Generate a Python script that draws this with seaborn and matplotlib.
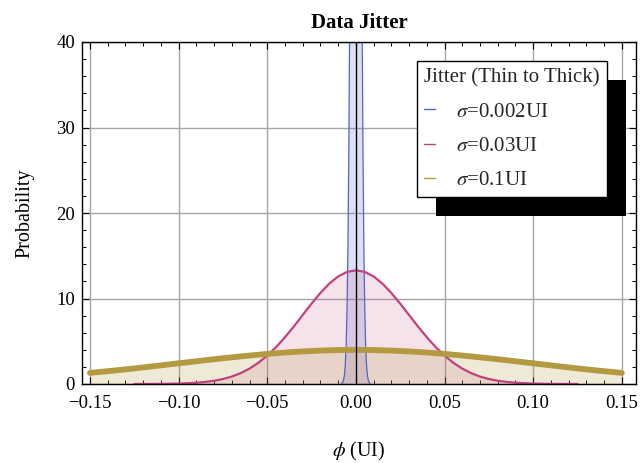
import numpy as np
import pandas as pd
import matplotlib
matplotlib.use("Agg")
import matplotlib.pyplot as plt
import seaborn as sns
from matplotlib.ticker import FixedLocator, MultipleLocator
from matplotlib.patches import Rectangle
from matplotlib.lines import Line2D

# ---- data ----
x_thin = [-0.008, -0.0075, -0.007, -0.0065, -0.006, -0.0055, -0.005, -0.0045, -0.004,
          -0.0035, -0.003, -0.0025, -0.002, -0.0015, -0.001, -0.0005, 0.0,
          0.0005, 0.001, 0.0015, 0.002, 0.0025, 0.003, 0.0035, 0.004,
          0.0045, 0.005, 0.0055, 0.006, 0.0065, 0.007, 0.0075, 0.008]
y_thin = [0.07, 0.18, 0.44, 1.0, 2.2, 4.5, 8.8, 15.9, 27.0,
          43.1, 64.8, 91.4, 121.0, 150.6, 176.0, 193.4, 199.5,
          193.4, 176.0, 150.6, 121.0, 91.4, 64.8, 43.1, 27.0,
          15.9, 8.8, 4.5, 2.2, 1.0, 0.44, 0.18, 0.07]

x_mid = [-0.125, -0.11, -0.10, -0.095, -0.09, -0.085, -0.08, -0.075, -0.07, -0.065,
         -0.06, -0.055, -0.05, -0.045, -0.04, -0.035, -0.03, -0.025, -0.02, -0.015,
         -0.01, -0.005, 0.0, 0.005, 0.01, 0.015, 0.02, 0.025, 0.03, 0.035,
         0.04, 0.045, 0.05, 0.055, 0.06, 0.065, 0.07, 0.075, 0.08, 0.085,
         0.09, 0.095, 0.10, 0.11, 0.125]
y_mid = [0.0, 0.01, 0.05, 0.09, 0.15, 0.24, 0.38, 0.58, 0.87, 1.27,
         1.80, 2.48, 3.32, 4.32, 5.47, 6.73, 8.07, 9.40, 10.65, 11.74,
         12.58, 13.11, 13.30, 13.11, 12.58, 11.74, 10.65, 9.40, 8.07, 6.73,
         5.47, 4.32, 3.32, 2.48, 1.80, 1.27, 0.87, 0.58, 0.38, 0.24,
         0.15, 0.09, 0.05, 0.01, 0.0]

x_thick = [-0.15, -0.14, -0.13, -0.12, -0.11, -0.10, -0.09, -0.08, -0.07, -0.06,
           -0.05, -0.04, -0.03, -0.02, -0.01, 0.0, 0.01, 0.02, 0.03, 0.04,
           0.05, 0.06, 0.07, 0.08, 0.09, 0.10, 0.11, 0.12, 0.13, 0.14, 0.15]
y_thick = [1.30, 1.50, 1.71, 1.94, 2.18, 2.42, 2.66, 2.90, 3.12, 3.33,
           3.52, 3.68, 3.81, 3.91, 3.97, 3.99, 3.97, 3.91, 3.81, 3.68,
           3.52, 3.33, 3.12, 2.90, 2.66, 2.42, 2.18, 1.94, 1.71, 1.50, 1.30]

labels = ["=0.002UI", "=0.03UI", "=0.1UI"]
x_ticks = [-0.15, -0.10, -0.05, 0.00, 0.05, 0.10, 0.15]
y_ticks = [0, 10, 20, 30, 40]

# ---- style ----
sns.set_theme(style="white")
plt.rcParams["font.family"] = ["Liberation Serif", "DejaVu Serif"]
plt.rcParams["mathtext.fontset"] = "stix"

colors = ["#5166c4", "#c3407f", "#b3993f"]
widths = [0.9, 1.6, 4.2]
fill_alpha = [0.2, 0.15, 0.2]

fig = plt.figure(figsize=(6.42, 4.63), dpi=100)
ax = fig.add_axes([82 / 642, 1 - 384 / 463, (636 - 82) / 642, (384 - 42) / 463])

series = [(x_thin, y_thin), (x_mid, y_mid), (x_thick, y_thick)]
for (xs, ys), c, a in zip(series, colors, fill_alpha):
    ax.fill_between(xs, 0, ys, color=c, alpha=a, linewidth=0, zorder=1)

for i, ((xs, ys), c, w) in enumerate(zip(series, colors, widths)):
    df = pd.DataFrame({"x": xs, "y": ys})
    sns.lineplot(data=df, x="x", y="y", ax=ax, color=c, linewidth=w,
                 sort=False, zorder=3 + i)
for ln in ax.lines[1:]:
    ln.set_clip_on(False)

ax.axvline(0, color="black", linewidth=0.9, zorder=7)

ax.set_xlim(-0.1545, 0.158)
ax.set_ylim(0, 40)

ax.xaxis.set_major_locator(FixedLocator(x_ticks))
ax.set_xticklabels([("\u2212" if v < 0 else "") + f"{abs(v):.2f}" for v in x_ticks])
ax.xaxis.set_minor_locator(MultipleLocator(0.01))
ax.yaxis.set_major_locator(FixedLocator(y_ticks))
ax.set_yticklabels([str(v) for v in y_ticks])
ax.yaxis.set_minor_locator(MultipleLocator(2))

ax.tick_params(which="both", direction="in", top=True, right=True,
               bottom=True, left=True, color="black", labelsize=13.5,
               labelcolor="black")
ax.tick_params(which="major", length=5, width=0.8)
ax.tick_params(which="minor", length=3, width=0.7)
ax.tick_params(axis="x", which="major", pad=8)
ax.tick_params(axis="y", which="major", pad=5)

ax.grid(True, which="major", color="#a6a6a6", linewidth=1.0, zorder=0)
ax.set_axisbelow(True)
for s in ax.spines.values():
    s.set_color("black")
    s.set_linewidth(1.0)
    s.set_zorder(8)

ax.set_xlabel(r"$\phi$ (UI)", fontsize=14.5, labelpad=20, color="black")
ax.set_ylabel("Probability", fontsize=14.5, labelpad=16, color="black")
ax.set_title("Data Jitter", fontsize=15, fontweight="bold", pad=10, color="black")

handles = [Line2D([0], [0], color=c, lw=1.0) for c in colors]
leg = ax.legend(handles, [r"$\sigma$" + l for l in labels],
                title="Jitter (Thin to Thick)", loc="upper left",
                bbox_to_anchor=((417 - 82) / 554, 1 - (61 - 42) / 342),
                borderaxespad=0,
                frameon=True, fancybox=False, shadow=False, fontsize=15,
                title_fontsize=15, handlelength=0.5, handletextpad=1.0,
                labelspacing=0.7, borderpad=0.35, alignment="left")
leg.get_frame().set_edgecolor("black")
leg.get_frame().set_linewidth(1.0)
leg.get_frame().set_facecolor("white")
leg.get_frame().set_alpha(1)
leg.set_zorder(10)

fig.canvas.draw()
bb = leg.get_window_extent()
inv = fig.transFigure.inverted()
x0, y0 = inv.transform((bb.x0 + 19, bb.y0 - 19))
x1, y1 = inv.transform((bb.x1 + 19, bb.y1 - 19))
shadow = Rectangle((x0, y0), x1 - x0, y1 - y0, transform=fig.transFigure,
                   facecolor="black", edgecolor="none", zorder=9)
ax.add_artist(shadow)
shadow.set_clip_on(False)

fig.savefig("out.png", dpi=100)
